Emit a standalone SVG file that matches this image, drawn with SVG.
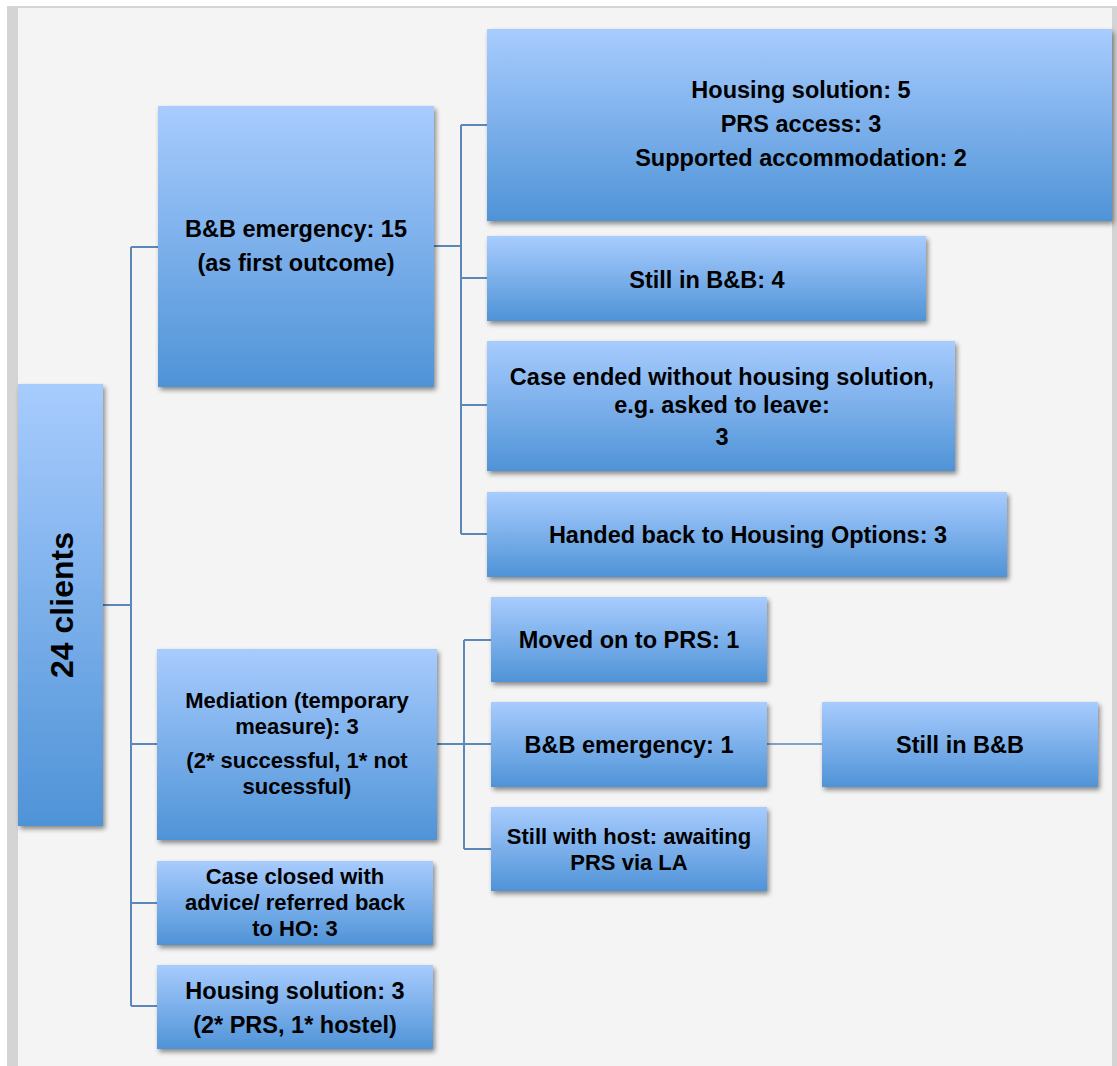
<svg xmlns="http://www.w3.org/2000/svg" width="1117" height="1066" viewBox="0 0 1117 1066">
<defs>
<linearGradient id="g" x1="0" y1="0" x2="0" y2="1">
<stop offset="0" stop-color="#a8ccfe"/>
<stop offset="1" stop-color="#4f93d7"/>
</linearGradient>
<filter id="sh" x="-10%" y="-10%" width="130%" height="130%">
<feGaussianBlur in="SourceAlpha" stdDeviation="2.5"/>
<feOffset dx="2" dy="3" result="b"/>
<feComponentTransfer><feFuncA type="linear" slope="0.45"/></feComponentTransfer>
<feMerge><feMergeNode/><feMergeNode in="SourceGraphic"/></feMerge>
</filter>
</defs>
<style>
.box{fill:url(#g);filter:url(#sh);}
.t{font-family:"Liberation Sans",Arial,sans-serif;font-weight:bold;font-size:23.5px;fill:#000;text-anchor:middle;}
.s{font-size:22px;}
.c{fill:none;stroke:#5b87b9;stroke-width:2;}
.c2{fill:none;stroke:#5b87b9;stroke-width:1.5;}
</style>
<rect x="0" y="0" width="1117" height="1066" fill="#ffffff"/>
<rect x="7" y="6" width="1110" height="1060" fill="#d4d4d4"/>
<rect x="18" y="8" width="1094" height="1058" fill="#f4f4f4"/>
<g id="connectors">
<path class="c" d="M103 605 H131 M131 247 V1006 M131 247 H158 M131 744 H157 M131 903 H157 M131 1006 H157"/>
<path class="c" d="M434 246 H461 M461 125 V534 M461 125 H487 M461 278 H487 M461 405 H487 M461 534 H487"/>
<path class="c" d="M437 744 H464 M464 640 V849 M464 640 H491 M464 744 H491 M464 849 H491"/>
<path class="c2" d="M767 744 H822"/>
</g>
<g id="n-root"><rect class="box" x="18" y="384" width="85" height="442"/>
<text class="t" style="font-size:32px" transform="translate(73 605) rotate(-90)">24 clients</text></g>
<g id="n-bb15"><rect class="box" x="158" y="106" width="276" height="281"/>
<text class="t" x="296" y="237">B&amp;B emergency: 15</text>
<text class="t" x="296" y="271">(as first outcome)</text></g>
<g id="n-hs5"><rect class="box" x="487" y="29" width="625" height="192"/>
<text class="t" x="801" y="98">Housing solution: 5</text>
<text class="t" x="801" y="132">PRS access: 3</text>
<text class="t" x="801" y="166">Supported accommodation: 2</text></g>
<g id="n-still4"><rect class="box" x="487" y="236" width="439" height="85"/>
<text class="t" x="707" y="288">Still in B&amp;B: 4</text></g>
<g id="n-ended"><rect class="box" x="487" y="341" width="468" height="130"/>
<text class="t" x="722" y="385">Case ended without housing solution,</text>
<text class="t" x="722" y="413">e.g. asked to leave:</text>
<text class="t" x="722" y="445">3</text></g>
<g id="n-handed"><rect class="box" x="487" y="492" width="520" height="85"/>
<text class="t" x="748" y="543">Handed back to Housing Options: 3</text></g>
<g id="n-med"><rect class="box" x="157" y="649" width="280" height="191"/>
<text class="t s" x="297" y="708">Mediation (temporary</text>
<text class="t s" x="297" y="734">measure): 3</text>
<text class="t s" x="297" y="768">(2* successful, 1* not</text>
<text class="t s" x="297" y="794">sucessful)</text></g>
<g id="n-moved"><rect class="box" x="491" y="597" width="276" height="85"/>
<text class="t" x="629" y="648">Moved on to PRS: 1</text></g>
<g id="n-bb1"><rect class="box" x="491" y="702" width="276" height="85"/>
<text class="t" x="629" y="753">B&amp;B emergency: 1</text></g>
<g id="n-stillbb"><rect class="box" x="822" y="702" width="276" height="85"/>
<text class="t" x="960" y="753">Still in B&amp;B</text></g>
<g id="n-host"><rect class="box" x="491" y="807" width="276" height="84"/>
<text class="t s" x="629" y="844">Still with host: awaiting</text>
<text class="t s" x="629" y="870">PRS via LA</text></g>
<g id="n-closed"><rect class="box" x="157" y="861" width="276" height="84"/>
<text class="t s" x="295" y="884">Case closed with</text>
<text class="t s" x="295" y="910">advice/ referred back</text>
<text class="t s" x="295" y="936">to HO: 3</text></g>
<g id="n-hs3"><rect class="box" x="157" y="965" width="276" height="84"/>
<text class="t" x="295" y="999">Housing solution: 3</text>
<text class="t" x="295" y="1033">(2* PRS, 1* hostel)</text></g>
</svg>
